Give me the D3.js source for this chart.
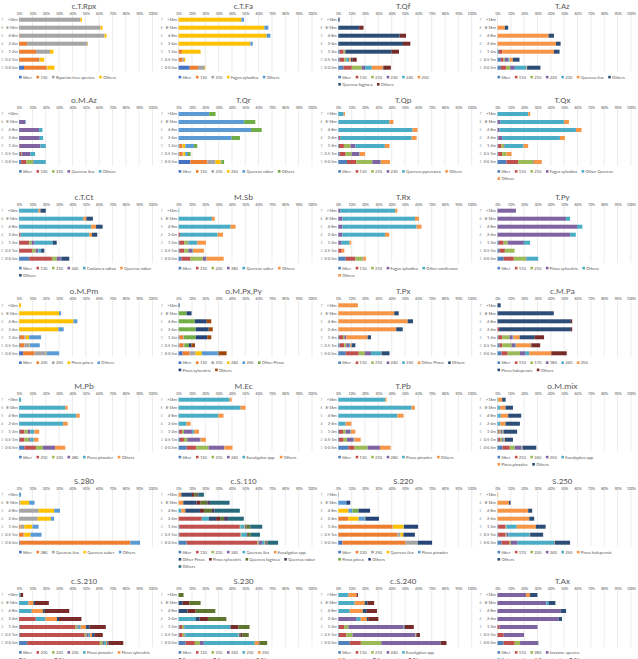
<!DOCTYPE html>
<html>
<head>
<meta charset="utf-8">
<script src="https://cdn.jsdelivr.net/npm/d3@7"></script>
<style>
  body { margin: 0; background: #fff; }
  svg { display: block; font-family: Carlito, "Liberation Sans Narrow", "Liberation Sans", Arial, sans-serif; }
</style>
</head>
<body>
<script>
// height classes, top to bottom
var heights = [">16m", "8-16m", "4-8m", "2-4m", "1-2m", "0.5-1m", "0-0.5m"];
var tickValues = [0, 10, 20, 30, 40, 50, 60, 70, 80, 90, 100];

// one series list + one value table per panel (rows follow heights, columns follow series)
var sCTRpx = ["litter", "130", "Riparian tree species", "Others"];
var vCTRpx = [[0,0,46,1.2],[0,0,61,1.5],[0,0.5,63.5,1.5],[0,6,45.3,0.3],[0,12.7,10.5,2.5],[0,15,0.5,3.3],[3.7,17,0.5,5.3]];

var sCTFa = ["litter", "110", "210", "Fagus sylvatica", "Others"];
var vCTFa = [[0,0,0,47,2],[0,0,0,64.3,3],[0,0,0,66,2.8],[0,0,0,53.8,1.8],[0,2.5,0,14,0],[0,3,1,1,0],[8.3,6.3,5,0.5,0]];

var sTQf = ["litter", "110", "210", "230", "240", "250", "Quercus faginea", "Others"];
var vTQf = [[0,0,0,0,0,0,1,0],[0,0,0,0,0,0,15.6,3.3],[0,0,0,0,0,0,46,4.8],[0,0,0,0,0,0,48.5,5.5],[1,3,1,0.5,0,0,34.5,5.5],[1,3.5,1.5,0,2,1.5,1,3.3],[3.8,6.3,7.5,2.5,5,8.3,0.5,5.5]];

var sTAz = ["litter", "110", "210", "220", "230", "Quercus ilex", "Others"];
var vTAz = [[0,0,0,0,0,0,0],[0,0,0,0,0,5.5,2.5],[0,0,0,0,0,38.3,4],[0,0,0,0,0,43.8,3.5],[1,2.5,0,0,0,38.8,4.2],[2.5,2,1,2.5,1,2.5,5],[2.5,4,3,3.5,8.7,0.5,10]];

var sOMAz = ["litter", "120", "210", "Quercus ilex", "Others"];
var vOMAz = [[0,0,0,0,0],[0,0,0,4.5,0.5],[0,0,0,15,2.5],[0,0,0,15.5,2.5],[0,0.5,0,15.5,4],[0.5,1,0.5,6.5,3.5],[1.5,4,5,0.5,9]];

var sTQr = ["litter", "110", "210", "250", "Quercus robur", "Others"];
var vTQr = [[0,0,0,0,22.9,4.8],[0,0,0,0,49.2,8.3],[0,0,0,0,54.3,8],[0,0,0,0,39.7,6.3],[0.5,2,0.5,2,6.5,2.5],[0.5,2.5,0.5,1.5,2,2],[8.8,12.8,6,4,0.5,2]];

var sTQp = ["litter", "110", "210", "230", "Quercus pyrenaica", "Others"];
var vTQp = [[0,0,0,0,4,1],[0,0,0,0,38.3,3],[0,0,0,0,55.7,3.7],[0.5,1,0,0,53.5,3.7],[0.5,3.7,5,3.7,22,3.5],[1,4.5,4.5,5.5,0.5,4],[6.5,7,12,6.2,0.3,6.7]];

var sTQx = ["litter", "110", "210", "Fagus sylvatica", "Other Quercus", "Others"];
var vTQx = [[0,0,0,0,23,1.5],[0,0,0,2,48,3.5],[0,0,0,1.5,57.3,4.2],[0.5,0.5,0,2.5,43.3,3.7],[0.5,2.5,2,0.5,14,3.5],[0.5,3,3.2,0,0,3.8],[6.7,8.8,11.2,0.5,0,6]];

var sCTCt = ["litter", "130", "210", "240", "Castanea sativa", "Quercus robur", "Others"];
var vCTCt = [[0,0,0,0,14.7,1.3,4],[0,0,0,0,48.3,2.1,4.9],[0,0,0,0,54,3.7,4.9],[0,1,0,0,51.5,2.1,4],[0,7.6,1.8,2,13.8,0,3],[0,10,2.4,2,2.1,0,2.4],[7.6,17,3.7,3,0.3,0,6]];

var sMSb = ["litter", "210", "220", "280", "Quercus suber", "Others"];
var vMSb = [[0,0,0,0,0.5,0],[0,0,0,0,25,2.1],[0,0,0,0,39,3.7],[0,1,0,0,28.3,4],[0.5,3.8,2.5,0.5,6.7,6.5],[0.5,3.8,3,3,0.5,8.2],[2,7,9.2,2.4,0.4,12.8]];

var sTRx = ["litter", "110", "210", "Fagus sylvatica", "Other coniferous", "Others"];
var vTRx = [[0,0,0,1.5,41.3,1.5],[0,0,0,3,54.5,3],[0,0,0,3,55.7,3.7],[0,0,0,3,32,3.2],[0,0,0,2.4,6,1.2],[0,2.5,0,0,0,2],[5.5,7.3,5.5,0.5,0,2]];

var sTPy = ["litter", "110", "210", "Pinus sylvestris", "Others"];
var vTPy = [[0,0,0,13.8,0],[0,0,0,51.4,3],[0,0,0,59.6,4],[0,0,0,54.4,4.3],[1,3.6,3,12.2,4.6],[1.5,4,7.3,0,0],[4.6,7.6,9.2,0.5,8.6]];

var sOMPm = ["litter", "220", "250", "Pinus pinea", "Others"];
var vOMPm = [[0,0,0,1.5,0],[0,0,0,30,1.5],[0,0,0,40.7,3],[0,0,0,29.4,4],[0.5,3.5,1,2.5,9],[0.5,3.5,3.7,0.3,7.5],[3,8.5,8.5,0.5,9.5]];

var sOMPxPy = ["litter", "110", "210", "240", "250", "Other Pinus", "Pinus sylvestris", "Others"];
var vOMPxPy = [[0,0,0,0,0,0,0.7,0],[0,0,0,0,0,6,3.7,0],[0,0,0,0,0,12.2,8.9,3.4],[0,0,0,0,0,12.8,9.8,3],[0.5,3,0.5,0,0,8.9,8.6,3],[0.5,3,0.5,0.3,0,3.5,1.8,2.7],[3,5.2,4.6,4.6,12,0.3,0.3,6]];

var sTPx = ["litter", "110", "210", "240", "250", "Other Pinus", "Others"];
var vTPx = [[0,0,0,0,0,14.7,0],[0,0,0,0,0,41.9,3.4],[0,0,0,0,0,52,4],[0,0,0,0,0,43.4,4.9],[0.5,3,1,1.5,0,16,2.5],[1,3.5,1.5,2,1,1,2.8],[5.5,9.8,4.6,4.6,7.6,0.3,6]];

var sCMPa = ["litter", "110", "170", "180", "240", "250", "Pinus halepensis", "Others"];
var vCMPa = [[0,0,0,0,0,0,2.4,0],[0,0,0,0,0,0,42.2,0],[0,0,0,0,0,0,55,1],[0,1.2,0,0,0,0,53.8,1],[0.5,3,5.5,2.4,0.5,4.7,11.3,7],[1.5,2,7,3,0.5,11,0.5,6.5],[3,4.6,9.2,4,3,16.5,0,11.6]];

var sMPb = ["litter", "210", "220", "280", "Pinus pinaster", "Others"];
var vMPb = [[0,0,0,0,1.5,0],[0,0,0,0,34.6,1.8],[0,0,0,0,43,2.4],[0,0,0,0,33,3.4],[0.5,3.5,2.4,2,3,3.7],[0.5,3.5,3.5,1,2.5,3.5],[4,8.6,5.2,9.2,0,7.6]];

var sMEc = ["litter", "110", "210", "240", "Eucalyptus spp.", "Others"];
var vMEc = [[0,0,0,0,38.2,1.5],[0,0,0,0,46.5,3.7],[0,0,0,0,29.7,4],[0,0,0,0,6,3],[0.5,2,1.5,6,1.5,3.8],[1,3,2.5,9.5,0.5,4],[6,7.3,9.2,11.6,0.3,6]];

var sTPb = ["litter", "110", "210", "280", "Pinus pinaster", "Others"];
var vTPb = [[0,0,0,0,35.2,1],[0,0,0,0,55,2.4],[0,0,0,0,44.3,4.6],[0,0,0,0,5.5,4.3],[0.5,3,2,3.5,0.5,3.3],[0.5,3.5,2.5,5,0.5,4.8],[7.6,4.6,9.8,9.2,0,8]];

var sOMmix = ["litter", "210", "240", "250", "Eucalyptus spp.", "Pinus pinaster", "Others"];
var vOMmix = [[0,0,0,0,0.5,3,2.6],[0.5,0,0,0,1.5,4,5.6],[0.5,0,0,0,2,5.5,9.8],[0.5,0,0,0,1.5,4,10.8],[0.5,1,1,1,0.5,0.5,10.2],[0.5,1.5,1.5,1,0.5,0.5,6.1],[3.7,5.5,3.7,4.9,0.5,0.5,10.3]];

var sS280 = ["litter", "280", "Quercus ilex", "Quercus suber", "Others"];
var vS280 = [[0,0,0,0,1.5],[0,0,1,6.6,4],[0,0,14.7,11.6,4.3],[0,0,14,9.8,2.4],[0,1,3,6,4.6],[0,3.4,0.5,4.7,8.2],[0.5,82.9,0,0,7.3]];

var sCS110 = ["litter", "110", "210", "240", "Quercus ilex", "Eucalyptus spp.", "Other Pinus", "Pinus sylvestris", "Quercus faginea", "Quercus robur", "Others"];
var vCS110 = [[0,0,0,0,0,2,8,2,2,1,4],[0,0,0,0,0,3.5,10,3,5,2,14.7],[0,0,0,0,2,3,11,3,6,2,18.9],[0,17.4,0,0,5.2,0,5.5,3,3,3,11.8],[0.5,45.4,0.5,0,3,0.5,0.5,0.5,2.5,0.3,9],[0.5,46,0.5,0,4,0,0.5,0.5,2,0,7],[6,53,1,2.5,2,0.5,0.5,0.5,0.5,0.3,7.8]];

var sS220 = ["litter", "220", "250", "Quercus ilex", "Pinus pinaster", "Pinus pinea", "Others"];
var vS220 = [[0,0,0.5,0,0,0,0],[0,0,0,0,6,0,3],[0,0,0,7.6,3,4.6,8.6],[0,7.6,0,7.6,4.6,0.5,10.2],[0,40.4,0.5,8.1,0.3,0,10.5],[0,44.3,2.4,2.1,0,0,8.6],[3,47.4,9.2,0,0,0,10.7]];

var sS250 = ["litter", "170", "220", "240", "250", "Pinus halepensis", "Others"];
var vS250 = [[0,0,0,0,0,0.5,0],[0,0,0,0,0,8.6,1.2],[0,0,0,0,0,23,3],[0,0,0,0,0,23.8,3.7],[0.5,5.5,0.5,0.3,7.6,14.4,7.3],[0.5,5.5,0.7,1.5,16,0.3,9.7],[3,6.1,1,5,27.5,0.3,11.5]];

var sCS210 = ["litter", "210", "220", "230", "Pinus pinaster", "Pinus sylvestris", "Quercus suber", "Others"];
var vCS210 = [[0,0,0,0,1,0,0,2],[0,0,0,0,7,3.7,1.2,10.4],[0,0,0,0,9.5,8.3,1.5,18.3],[0,12.5,0,0,7.3,8.6,1.5,16.8],[0.5,41.7,1.5,1,1.5,4,2.5,12.3],[0.5,48.7,1.5,1.5,1,1.5,2,6],[6.1,54.4,2.1,1,1.5,1,1,11]];

var sS230 = ["litter", "110", "210", "220", "230", "250", "Pinus pinaster", "Quercus pyrenaica", "Others"];
var vS230 = [[0,0,0,0,0,0,0,0,3.7],[0,0,0,0,0,0,3,5,8.5],[0,0,0,0,0,0,6.7,6.1,14.7],[0,0,0,0,12.8,0,3,6.2,13.8],[0.5,2,1.5,0.5,34,0.3,0.5,5.6,8.3],[0.5,2.5,1.5,0.5,40,0.5,1,1.5,4.6],[5.2,7,3.7,3,38.2,3,0.3,0.3,5.7]];

var sCS240 = ["litter", "110", "210", "240", "Eucalyptus spp.", "Pinus pinaster", "Quercus suber", "Others"];
var vCS240 = [[0,0,0,0,7.6,6.1,0,1],[0,0,0,0,12.2,7.6,2,5.1],[0,0,0,0,8.6,9.8,3,7.6],[0,0,0,13.8,3,4.6,1,7.6],[0.5,4.1,3,41.3,0.3,0.3,0.5,6.6],[0.5,5.6,4.6,47,0.3,0.3,0.3,2.6],[8.6,8.3,15.3,44.3,0,0,0.3,4.3]];

var sTAx = ["litter", "110", "280", "Invasive species", "Castanea sativa", "Pinus pinaster", "Others"];
var vTAx = [[0,0,0,21.4,0,3,5.5],[0,0,0,36.7,1.5,0,5.2],[0,0,0,47.4,0,0,4],[0,0,0,45.9,0,0,2.4],[0,1.5,0,28.5,0,0,0],[0,4.6,0,15.3,0,0,0],[4.6,8.3,4,13.1,0,0,0.6]];

var panels = [
  ["c.T.Rpx", sCTRpx, vCTRpx], ["c.T.Fa", sCTFa, vCTFa], ["T.Qf", sTQf, vTQf], ["T.Az", sTAz, vTAz],
  ["o.M.Az", sOMAz, vOMAz], ["T.Qr", sTQr, vTQr], ["T.Qp", sTQp, vTQp], ["T.Qx", sTQx, vTQx],
  ["c.T.Ct", sCTCt, vCTCt], ["M.Sb", sMSb, vMSb], ["T.Rx", sTRx, vTRx], ["T.Py", sTPy, vTPy],
  ["o.M.Pm", sOMPm, vOMPm], ["o.M.Px,Py", sOMPxPy, vOMPxPy], ["T.Px", sTPx, vTPx], ["c.M.Pa", sCMPa, vCMPa],
  ["M.Pb", sMPb, vMPb], ["M.Ec", sMEc, vMEc], ["T.Pb", sTPb, vTPb], ["o.M.mix", sOMmix, vOMmix],
  ["S.280", sS280, vS280], ["c.S.110", sCS110, vCS110], ["S.220", sS220, vS220], ["S.250", sS250, vS250],
  ["c.S.210", sCS210, vCS210], ["S.230", sS230, vS230], ["c.S.240", sCS240, vCS240], ["T.Ax", sTAx, vTAx]
];

// two office colour sets are mixed in the source
var palette2013 = ["#4472C4", "#ED7D31", "#A5A5A5", "#FFC000", "#5B9BD5", "#70AD47", "#264478", "#9E480E", "#636363", "#997300", "#255E91"];
var palette2007 = ["#4F81BD", "#C0504D", "#9BBB59", "#8064A2", "#4BACC6", "#F79646", "#2C4D75", "#772C2A", "#5F7530", "#4D3B62", "#276A7C"];
var uses2013 = ["c.T.Rpx", "c.T.Fa", "T.Qr", "o.M.Pm", "o.M.Px,Py", "S.280", "S.220"];

// number of legend entries on each wrapped line
var legendBreaks = {
  "T.Qf": [6], "T.Qx": [5], "c.T.Ct": [6], "T.Rx": [5], "o.M.Px,Py": [6], "c.M.Pa": [6],
  "o.M.mix": [5], "c.S.110": [6, 4], "S.220": [5], "S.250": [6], "c.S.210": [6], "S.230": [6],
  "c.S.240": [5], "T.Ax": [4]
};

var width = 638, height = 659;
var colX = [0, 159.5, 319.2, 478.4];
var rowTop = [5.7, 100, 196.7, 291.3, 385.7, 480.7, 581];
var textColor = "#595959";

var svg = d3.select("body").append("svg")
  .attr("width", width)
  .attr("height", height);

panels.forEach(function(p, i) {
  var title = p[0], series = p[1], values = p[2];
  var cx = colX[i % 4], top = rowTop[Math.floor(i / 4)];
  var colors = uses2013.indexOf(title) >= 0 ? palette2013 : palette2007;

  var x = d3.scaleLinear().domain([0, 100]).range([cx + 19.1, cx + 152.5]);
  var y = d3.scaleBand().domain(heights)
    .range([top + 10, top + 66])
    .paddingInner(0.5).paddingOuter(0.25);

  var g = svg.append("g");

  g.append("text")
    .attr("x", cx + 84)
    .attr("y", top - 0.3)
    .attr("dy", "0.35em")
    .attr("text-anchor", "middle")
    .attr("font-size", 9)
    .attr("fill", textColor)
    .text(title);

  // gridlines
  g.selectAll("line.grid").data(tickValues).join("line")
    .attr("class", "grid")
    .attr("x1", function(d) { return x(d); })
    .attr("x2", function(d) { return x(d); })
    .attr("y1", top + 9.5)
    .attr("y2", top + 66)
    .attr("stroke", "#d9d9d9")
    .attr("stroke-width", 0.5);

  var xAxis = d3.axisTop(x).tickValues(tickValues)
    .tickFormat(function(d) { return d + "%"; })
    .tickSize(0).tickPadding(0);
  var ax = g.append("g")
    .attr("transform", "translate(0," + (top + 8.9) + ")")
    .call(xAxis)
    .attr("font-family", null).attr("font-size", null);
  ax.select(".domain").remove();
  ax.selectAll("text").attr("font-size", 4.1).attr("fill", textColor);

  var yAxis = d3.axisLeft(y).tickSize(0).tickPadding(0);
  var ay = g.append("g")
    .attr("transform", "translate(" + (cx + 17.6) + ",0)")
    .call(yAxis)
    .attr("font-family", null).attr("font-size", null);
  ay.select(".domain").remove();
  ay.selectAll("text").attr("font-size", 4.3).attr("fill", textColor);

  // little cut-off prefixes in front of the height labels
  g.selectAll("text.pre").data(heights).join("text")
    .attr("class", "pre")
    .attr("x", cx + 1.2)
    .attr("y", function(d) { return y(d) + y.bandwidth() / 2; })
    .attr("dy", "0.35em")
    .attr("font-size", 3.6)
    .attr("fill", "#8a8a8a")
    .text(function(d, k) { return 7 - k; });

  var rows = values.map(function(r, k) {
    var o = { h: heights[k] };
    series.forEach(function(s, j) { o[s] = r[j]; });
    return o;
  });
  var stacked = d3.stack().keys(series)(rows);

  g.selectAll("g.layer").data(stacked).join("g")
    .attr("class", "layer")
    .attr("fill", function(d, j) { return colors[j]; })
    .selectAll("rect").data(function(d) { return d; }).join("rect")
    .attr("x", function(d) { return x(d[0]); })
    .attr("width", function(d) { return Math.max(0, x(d[1]) - x(d[0])); })
    .attr("y", function(d) { return y(d.data.h); })
    .attr("height", y.bandwidth());

  // legend
  var breaks = legendBreaks[title] || [];
  var line = 0, count = 0, xp = cx + 19.1;
  series.forEach(function(s, j) {
    if (line < breaks.length && count === breaks[line]) {
      line++; count = 0; xp = cx + 19.1;
    }
    var ly = top + 71.4 + line * 7.2;
    g.append("rect")
      .attr("x", xp).attr("y", ly - 1.3)
      .attr("width", 2.6).attr("height", 2.6)
      .attr("fill", colors[j]);
    var t = g.append("text")
      .attr("x", xp + 3.9).attr("y", ly)
      .attr("dy", "0.35em")
      .attr("font-size", 4.6)
      .attr("fill", textColor)
      .text(s);
    xp += 3.9 + t.node().getComputedTextLength() + 4.6;
    count++;
  });
});
</script>
</body>
</html>
